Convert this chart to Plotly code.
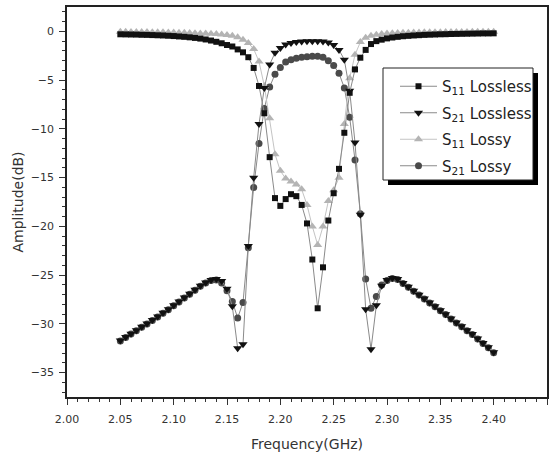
import plotly.graph_objects as go

freq_ghz = [2.050, 2.055, 2.060, 2.065, 2.070, 2.075, 2.080, 2.085, 2.090, 2.095,
            2.100, 2.105, 2.110, 2.115, 2.120, 2.125, 2.130, 2.135, 2.140, 2.145,
            2.150, 2.155, 2.160, 2.165, 2.170, 2.175, 2.180, 2.185, 2.190, 2.195,
            2.200, 2.205, 2.210, 2.215, 2.220, 2.225, 2.230, 2.235, 2.240, 2.245,
            2.250, 2.255, 2.260, 2.265, 2.270, 2.275, 2.280, 2.285, 2.290, 2.295,
            2.300, 2.305, 2.310, 2.315, 2.320, 2.325, 2.330, 2.335, 2.340, 2.345,
            2.350, 2.355, 2.360, 2.365, 2.370, 2.375, 2.380, 2.385, 2.390, 2.395,
            2.400]

s11_lossless = [-0.30, -0.31, -0.32, -0.33, -0.35, -0.36, -0.38, -0.40, -0.42, -0.45,
                -0.48, -0.52, -0.56, -0.61, -0.67, -0.74, -0.83, -0.94, -1.07, -1.22,
                -1.40, -1.55, -1.85, -2.15, -2.65, -3.75, -5.6, -8.4, -12.9, -17.1,
                -17.9, -17.2, -16.7, -16.9, -17.8, -19.7, -23.4, -28.4, -24.2, -19.4,
                -16.6, -14.1, -10.4, -6.3, -3.9, -2.7, -1.9, -1.3, -1.0, -0.85,
                -0.72, -0.63, -0.56, -0.50, -0.46, -0.42, -0.39, -0.36, -0.34, -0.32,
                -0.30, -0.29, -0.27, -0.26, -0.25, -0.24, -0.23, -0.22, -0.21, -0.21,
                -0.20]

s21_lossless = [-31.7, -31.35, -31.0, -30.65, -30.3, -29.95, -29.6, -29.25, -28.85, -28.5,
                -28.1, -27.7, -27.3, -26.9, -26.5, -26.1, -25.75, -25.5, -25.4, -25.6,
                -26.4, -28.2, -32.5, -32.1, -22.0, -15.0, -9.5, -5.8, -3.4, -2.2,
                -1.7, -1.35, -1.2, -1.1, -1.05, -1.0, -1.0, -1.0, -1.05, -1.15,
                -1.4, -1.9, -2.9, -6.1, -11.4, -18.8, -28.5, -32.6, -28.1, -26.1,
                -25.5, -25.3, -25.4, -25.8, -26.2, -26.6, -27.0, -27.4, -27.8, -28.2,
                -28.6, -29.0, -29.45, -29.85, -30.25, -30.65, -31.05, -31.5, -31.95, -32.4,
                -32.9]

s11_lossy = [-0.05, -0.05, -0.06, -0.06, -0.07, -0.07, -0.08, -0.09, -0.10, -0.11,
             -0.12, -0.13, -0.15, -0.17, -0.19, -0.21, -0.23, -0.25, -0.28, -0.32,
             -0.37, -0.45, -0.60, -0.85, -1.2, -1.8, -3.1, -5.6, -8.9, -12.6,
             -14.3, -15.1, -15.4, -15.7, -16.2, -17.8, -20.0, -21.9, -20.0, -17.4,
             -16.3, -15.0, -9.5, -4.8, -2.4, -1.1, -0.65, -0.45, -0.35, -0.28,
             -0.23, -0.20, -0.17, -0.15, -0.13, -0.12, -0.11, -0.10, -0.09, -0.08,
             -0.08, -0.07, -0.07, -0.06, -0.06, -0.06, -0.05, -0.05, -0.05, -0.05,
             -0.05]

s21_lossy = [-31.75, -31.4, -31.05, -30.7, -30.35, -30.0, -29.65, -29.3, -28.9, -28.55,
             -28.15, -27.75, -27.35, -26.95, -26.55, -26.15, -25.8, -25.55, -25.5, -25.8,
             -26.6, -27.7, -29.4, -27.8, -22.2, -16.0, -11.5, -7.9, -5.7, -4.4,
             -3.7, -3.15, -2.9, -2.75, -2.65, -2.6, -2.55, -2.55, -2.65, -3.0,
             -3.5, -4.3, -5.8, -8.8, -13.2, -18.7, -25.4, -28.4, -27.2, -26.0,
             -25.55, -25.35, -25.45, -25.85, -26.25, -26.65, -27.05, -27.45, -27.85, -28.25,
             -28.65, -29.05, -29.5, -29.9, -30.3, -30.7, -31.1, -31.55, -32.0, -32.45,
             -32.95]

series_names = ["S<sub>11</sub> Lossless", "S<sub>21</sub> Lossless",
                "S<sub>11</sub> Lossy", "S<sub>21</sub> Lossy"]

FONT = "DejaVu Sans"

# plot area in pixels: x 67..547, y 7..397
L, R, T, B = 67, 547, 7, 397
W, H = R - L, B - T


def px_x(px):
    return (px - L) / W


def px_y(py):
    return (B - py) / H


fig = go.Figure()
# drawn back to front; legendrank keeps the reference legend order
fig.add_trace(go.Scatter(x=freq_ghz, y=s21_lossy, name=series_names[3], mode="lines+markers",
                         legendgroup="d", legendrank=4, line=dict(color="#8a8a8a", width=1),
                         marker=dict(symbol="circle", size=7, color="#4a4a4a")))
fig.add_trace(go.Scatter(x=freq_ghz, y=s11_lossy, name=series_names[2], mode="lines+markers",
                         legendgroup="c", legendrank=3, line=dict(color="#c4c4c4", width=1),
                         marker=dict(symbol="triangle-up", size=8, color="#b4b4b4")))
fig.add_trace(go.Scatter(x=freq_ghz, y=s21_lossless, name=series_names[1], mode="lines+markers",
                         legendgroup="b", legendrank=2, line=dict(color="#8a8a8a", width=1),
                         marker=dict(symbol="triangle-down", size=8, color="#111111")))
fig.add_trace(go.Scatter(x=freq_ghz, y=s11_lossless, name=series_names[0], mode="lines+markers",
                         legendgroup="a", legendrank=1, line=dict(color="#8a8a8a", width=1),
                         marker=dict(symbol="square", size=6, color="#111111")))

axis_common = dict(showline=True, linecolor="#222222", linewidth=1.5, mirror=True,
                   showgrid=False, zeroline=False, ticks="outside", ticklen=6,
                   tickwidth=1, tickcolor="#333333", automargin=False,
                   tickfont=dict(family=FONT, size=11, color="#333333"))

fig.update_xaxes(range=[2.0, 2.45], tick0=2.0, dtick=0.05, tickformat=".2f",
                 ticklabelstandoff=5,
                 minor=dict(dtick=0.01, ticklen=3, ticks="outside", tickcolor="#333333"),
                 title=dict(text="Frequency(GHz)", font=dict(family=FONT, size=14, color="#333333"),
                            standoff=14),
                 **axis_common)
fig.update_yaxes(range=[-37.5, 2.5], tick0=0, dtick=5,
                 ticklabelstandoff=3,
                 minor=dict(dtick=1, ticklen=3, ticks="outside", tickcolor="#333333"),
                 title=dict(text="Amplitude(dB)", font=dict(family=FONT, size=14, color="#333333"),
                            standoff=4),
                 **axis_common)

# legend frame with drop shadow
fig.add_shape(type="rect", xref="paper", yref="paper",
              x0=px_x(388), x1=px_x(538), y0=px_y(185), y1=px_y(73),
              fillcolor="black", line=dict(width=0), layer="above")
fig.add_shape(type="rect", xref="paper", yref="paper",
              x0=px_x(383), x1=px_x(533), y0=px_y(180), y1=px_y(68),
              fillcolor="white", line=dict(color="#222222", width=1), layer="above")

fig.update_layout(
    width=558, height=461,
    margin=dict(l=L, r=558 - R, t=T, b=461 - B),
    paper_bgcolor="white", plot_bgcolor="white",
    showlegend=True,
    legend=dict(x=px_x(395), y=px_y(70), xanchor="left", yanchor="top",
                traceorder="grouped", bgcolor="rgba(0,0,0,0)",
                borderwidth=0, tracegroupgap=4,
                font=dict(family=FONT, size=15, color="#222222"),
                itemwidth=37),
)

fig.write_html("out.html", config={"displayModeBar": False},
               post_script="document.body.style.margin='0';")
